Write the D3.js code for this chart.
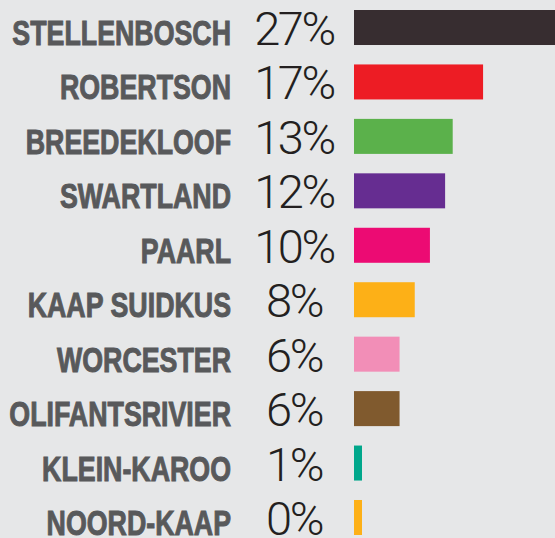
<!DOCTYPE html>
<html>
<head>
<meta charset="utf-8">
<script src="https://cdn.jsdelivr.net/npm/d3@7"></script>
<style>
  html, body { margin: 0; padding: 0; background: #e6e7e8; }
  svg { display: block; }
</style>
</head>
<body>
<svg id="chart"></svg>
<script>
"use strict";

// regions and their share, top to bottom
const regions = ["STELLENBOSCH", "ROBERTSON", "BREEDEKLOOF", "SWARTLAND", "PAARL",
  "KAAP SUIDKUS", "WORCESTER", "OLIFANTSRIVIER", "KLEIN-KAROO", "NOORD-KAAP"];
const shares = [27, 17, 13, 12, 10, 8, 6, 6, 1, 0];
const barColors = ["#372d30", "#ed1c24", "#5bb14b", "#662d91", "#ec0b73",
  "#fdb017", "#f28eb7", "#805a2e", "#00a78b", "#fdb017"];

const svgWidth = 555, svgHeight = 538;

const svg = d3.select("#chart")
  .attr("width", svgWidth)
  .attr("height", svgHeight);

svg.append("rect")
  .attr("width", svgWidth)
  .attr("height", svgHeight)
  .attr("fill", "#e6e7e8");

const data = regions.map((r, i) => ({ region: r, share: shares[i], color: barColors[i] }));

const xScale = d3.scaleLinear()
  .domain([0, 27])
  .range([354, 559]);

const yScale = d3.scaleBand()
  .domain(regions)
  .range([10, 535])
  .paddingInner(0.357)
  .paddingOuter(0);

const minBar = 8; // tiny shares still get a visible sliver

const rows = svg.selectAll(".row")
  .data(data)
  .enter()
  .append("g")
  .attr("class", "row");

rows.append("rect")
  .attr("x", xScale(0))
  .attr("y", d => yScale(d.region))
  .attr("width", d => Math.max(xScale(d.share) - xScale(0), minBar))
  .attr("height", yScale.bandwidth())
  .attr("fill", d => d.color);

// condensed heavy labels: regular bold squeezed horizontally
rows.append("text")
  .attr("transform", d => `translate(231,${yScale(d.region) + yScale.bandwidth()}) scale(0.765,1)`)
  .attr("text-anchor", "end")
  .style("font-family", "'Liberation Sans', Arial, sans-serif")
  .style("font-weight", "bold")
  .style("font-size", "35px")
  .attr("fill", "#58595b")
  .attr("stroke", "#58595b")
  .attr("stroke-width", 1)
  .text(d => d.region);

rows.append("text")
  .attr("x", 294)
  .attr("y", d => yScale(d.region) + yScale.bandwidth())
  .attr("text-anchor", "middle")
  .style("font-family", "Roboto, sans-serif")
  .style("font-weight", "300")
  .style("font-size", "47px")
  .style("letter-spacing", "-2.5px")
  .attr("fill", "#231f20")
  .text(d => d.share + "%");
</script>
</body>
</html>
